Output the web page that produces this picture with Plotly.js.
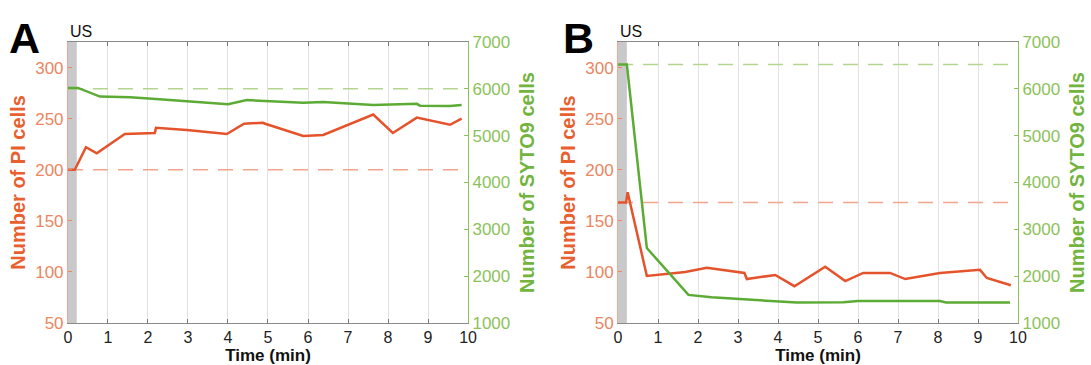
<!DOCTYPE html>
<html>
<head>
<meta charset="utf-8">
<script src="https://cdn.plot.ly/plotly-3.0.1.min.js"></script>
<style>html,body{margin:0;padding:0;background:#fff;}#chart{width:1091px;height:365px;}</style>
</head>
<body>
<div id="chart"></div>
<script>
// ---- Data ----
// Panel A
const timeA_PI   = [0, 0.17, 0.45, 0.72, 1.42, 2.17, 2.2, 2.97, 3.97, 4.4, 4.87, 4.93, 5.88, 6.38, 7.63, 8.12, 8.72, 9.55, 9.84];
const piA        = [200, 200, 222, 216, 235, 236, 241, 239, 235, 245, 246, 245, 233, 234, 254, 236, 251, 244, 250];
const timeA_SY   = [0, 0.25, 0.8, 1.55, 2.2, 4.0, 4.47, 5.88, 6.38, 7.63, 8.72, 8.8, 9.55, 9.84];
const sytoA      = [6020, 6020, 5835, 5820, 5785, 5670, 5760, 5705, 5720, 5655, 5680, 5640, 5635, 5655];
const piBaseA    = 200;
const sytoBaseA  = 6000;
// Panel B
const timeB_PI   = [0, 0.2, 0.24, 0.72, 1.68, 2.22, 3.16, 3.22, 3.93, 4.41, 5.18, 5.68, 6.13, 6.8, 7.18, 8.05, 9.05, 9.22, 9.82];
const piB        = [168, 168, 178, 96, 100, 104, 99, 93, 97, 86, 105, 91, 99, 99, 93, 99, 102, 94, 87];
const timeB_SY   = [0, 0.22, 0.72, 1.76, 2.34, 3.18, 4.0, 4.47, 5.63, 6.0, 8.05, 8.2, 9.8];
const sytoB      = [6520, 6520, 2600, 1600, 1550, 1505, 1455, 1435, 1445, 1470, 1470, 1440, 1440];
const piBaseB    = 168;
const sytoBaseB  = 6520;
// Shared
const usEnd      = 0.22;   // ultrasound exposure window (min)
const baseEnd    = 9.84;
const xTicks     = [0,1,2,3,4,5,6,7,8,9,10];
const piTicks    = [50,100,150,200,250,300];
const sytoTicks  = [1000,2000,3000,4000,5000,6000,7000];

// ---- Styles ----
const FONT = '"Liberation Sans", Arial, Helvetica, sans-serif';
const RED = '#e4532b', RED_D = '#f2a58a', RED_T = '#ec8560', RED_TT = '#e8602f';
const GRN = '#5cab35', GRN_D = '#b3d58f', GRN_T = '#8cc25a', GRN_TT = '#72b43e';
const yDom = [0.1151, 0.8849];

function line(x, y, xa, ya, color, width, dash) {
  return {type:'scatter', mode:'lines', x:x, y:y, xaxis:xa, yaxis:ya,
          line:{color:color, width:width, dash:dash||'solid'}, hoverinfo:'skip', showlegend:false};
}

const traces = [
  line([0, baseEnd], [piBaseA, piBaseA], 'x', 'y', RED_D, 1.5, '15px,10px'),
  line([0, baseEnd], [sytoBaseA, sytoBaseA], 'x', 'y2', GRN_D, 1.5, '15px,10px'),
  line(timeA_SY, sytoA, 'x', 'y2', GRN, 2.5),
  line(timeA_PI, piA, 'x', 'y', RED, 2.5),
  line([0, baseEnd], [piBaseB, piBaseB], 'x2', 'y3', RED_D, 1.5, '15px,10px'),
  line([0, baseEnd], [sytoBaseB, sytoBaseB], 'x2', 'y4', GRN_D, 1.5, '15px,10px'),
  line(timeB_SY, sytoB, 'x2', 'y4', GRN, 2.5),
  line(timeB_PI, piB, 'x2', 'y3', RED, 2.5)
];

function xAxis(domain, anchor) {
  return {domain:domain, anchor:anchor, range:[0,10], tickvals:xTicks, ticks:'inside', ticklen:4,
    tickcolor:'#777', showline:true, linecolor:'#8a8a8a', linewidth:1, mirror:'ticks',
    showgrid:true, gridcolor:'#e2e2e2', gridwidth:1, zeroline:false,
    tickfont:{family:FONT, size:16, color:'#222'},
    title:{text:'<b>Time (min)</b>', font:{family:FONT, size:17, color:'#111'}, standoff:0}};
}
function leftAxis(anchor) {
  return {domain:yDom, anchor:anchor, range:[50,325], tickvals:piTicks, ticks:'inside', ticklen:4,
    tickcolor:RED_T, showline:true, linecolor:'#f0a890', linewidth:1, showgrid:false, zeroline:false,
    tickfont:{family:FONT, size:17, color:RED_T},
    title:{text:'<b>Number of PI cells</b>', font:{family:FONT, size:20, color:RED_TT}, standoff:4}};
}
function rightAxis(overlay, anchor) {
  return {overlaying:overlay, anchor:anchor, side:'right', range:[1000,7000], tickvals:sytoTicks,
    ticks:'inside', ticklen:4, tickcolor:GRN_T, showline:true, linecolor:GRN_T, linewidth:1,
    showgrid:false, zeroline:false,
    tickfont:{family:FONT, size:17, color:GRN_T},
    title:{text:'<b>Number of SYTO9 cells</b>', font:{family:FONT, size:20, color:GRN_TT}, standoff:10}};
}

const layout = {
  width:1091, height:365, margin:{l:0, r:0, t:0, b:0},
  paper_bgcolor:'#fff', plot_bgcolor:'rgba(0,0,0,0)', showlegend:false,
  font:{family:FONT},
  xaxis: xAxis([0.0623, 0.429], 'y'),
  yaxis: leftAxis('x'),
  yaxis2: rightAxis('y', 'x'),
  xaxis2: xAxis([0.5665, 0.9331], 'y3'),
  yaxis3: leftAxis('x2'),
  yaxis4: rightAxis('y3', 'x2'),
  shapes: [
    {type:'rect', xref:'x', yref:'paper', x0:0, x1:usEnd, y0:yDom[0], y1:yDom[1],
     fillcolor:'#c9c9cc', line:{width:0}, layer:'below'},
    {type:'rect', xref:'x2', yref:'paper', x0:0, x1:usEnd, y0:yDom[0], y1:yDom[1],
     fillcolor:'#c9c9cc', line:{width:0}, layer:'below'}
  ],
  annotations: [
    {text:'<b>A</b>', xref:'paper', yref:'paper', x:7/1091, y:1-12/365, xanchor:'left', yanchor:'top',
     showarrow:false, font:{family:FONT, size:43, color:'#000'}},
    {text:'<b>B</b>', xref:'paper', yref:'paper', x:561/1091, y:1-12/365, xanchor:'left', yanchor:'top',
     showarrow:false, font:{family:FONT, size:43, color:'#000'}},
    {text:'US', xref:'x', yref:'paper', x:0, y:yDom[1], xanchor:'left', yanchor:'bottom', yshift:0,
     showarrow:false, font:{family:FONT, size:16, color:'#111'}},
    {text:'US', xref:'x2', yref:'paper', x:0, y:yDom[1], xanchor:'left', yanchor:'bottom', yshift:0,
     showarrow:false, font:{family:FONT, size:16, color:'#111'}}
  ]
};

Plotly.newPlot('chart', traces, layout, {staticPlot:true, displayModeBar:false});
</script>
</body>
</html>
